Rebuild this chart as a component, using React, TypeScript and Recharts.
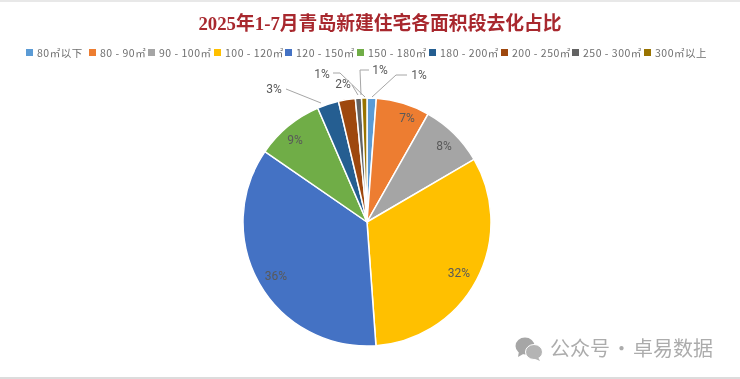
import { PieChart, Pie, Cell, Legend } from 'recharts'

const CATEGORIES = ['80㎡以下', '80 - 90㎡', '90 - 100㎡', '100 - 120㎡', '120 - 150㎡', '150 - 180㎡', '180 - 200㎡', '200 - 250㎡', '250 - 300㎡', '300㎡以上']
const SHARES = [1.2, 7, 8.4, 32.3, 35.8, 8.9, 2.8, 2.2, 0.8, 0.7]
const COLORS = ['#5b9bd5', '#ed7d31', '#a5a5a5', '#ffc000', '#4472c4', '#70ad47', '#255e91', '#9e480e', '#636363', '#997300']

const pieData = CATEGORIES.map((name, i) => ({ name, value: SHARES[i] }))

const CJK = '"Noto Sans CJK SC", sans-serif'

// label centre relative to pie centre, plus optional leader line (also relative)
const LABEL_SPOTS = [
  { x: 52, y: -147, line: [[5, -125], [29, -147], [40, -147]] },
  { x: 40, y: -104 },
  { x: 77, y: -76 },
  { x: 92, y: 51 },
  { x: -91, y: 54 },
  { x: -72, y: -82 },
  { x: -93, y: -133, line: [[-46, -119], [-81, -133]] },
  { x: -24, y: -138, line: [[-9, -127], [-15, -137]] },
  { x: -45, y: -148, line: [[-2, -125], [-27, -149], [-34, -149]] },
  { x: 13, y: -152, line: [[-6, -127], [-7, -152], [2, -152]] },
]

function renderLabel(props: any) {
  const { cx, cy, index, value } = props
  const spot = LABEL_SPOTS[index]
  const pts = spot.line ? spot.line.map(([x, y]: number[]) => `${cx + x},${cy + y}`).join(' ') : ''
  return (
    <g>
      {spot.line && <polyline points={pts} fill="none" stroke="#a6a6a6" strokeWidth={1} />}
      <text x={cx + spot.x} y={cy + spot.y} textAnchor="middle" dominantBaseline="central" fontSize={12} fontFamily="Roboto, sans-serif" fill="#595959">
        {Math.round(value)}%
      </text>
    </g>
  )
}

const LEGEND_X = [26, 89, 148, 214, 285, 357, 429, 501, 572, 644]

function LegendRow() {
  return (
    <div style={{ position: 'relative', width: 740, height: 16 }}>
      {CATEGORIES.map((name, i) => (
        <div key={name} style={{ position: 'absolute', left: LEGEND_X[i], top: 0, display: 'flex', alignItems: 'center', whiteSpace: 'nowrap' }}>
          <span style={{ width: 7, height: 7, background: COLORS[i], marginRight: 4, display: 'inline-block' }} />
          <span style={{ fontSize: 10.5, color: '#6f6f6f', fontFamily: CJK, letterSpacing: 0.5 }}>{name}</span>
        </div>
      ))}
    </div>
  )
}

export default function App() {
  return (
    <div style={{ position: 'absolute', left: 0, top: 0, width: 740, height: 379, background: '#fff', overflow: 'hidden', filter: 'blur(0.4px)' }}>
      <div style={{ position: 'absolute', left: 0, right: 0, top: 0, height: 2, background: '#e8e8e8' }} />
      <div style={{ position: 'absolute', left: 0, right: 0, top: 377, height: 2, background: '#dcdcdc' }} />
      <div style={{ position: 'absolute', left: 190, top: 12, width: 380, textAlign: 'center', whiteSpace: 'nowrap', fontFamily: '"Liberation Serif", "Noto Sans CJK SC", serif', fontWeight: 700, fontSize: 18.8, lineHeight: '24px', color: '#a8282e' }}>
        2025年1-7月青岛新建住宅各面积段去化占比
      </div>
      <PieChart width={740} height={379} margin={{ top: 0, right: 0, bottom: 0, left: 0 }} style={{ position: 'absolute', left: 0, top: 0 }}>
        <Legend content={<LegendRow />} verticalAlign="middle" align="center" wrapperStyle={{ left: 0, top: 45, width: 740 }} />
        <Pie
          data={pieData}
          dataKey="value"
          nameKey="name"
          cx={367}
          cy={222}
          outerRadius={124}
          startAngle={90}
          endAngle={-270}
          stroke="#fff"
          strokeWidth={1.5}
          label={renderLabel}
          labelLine={false}
          isAnimationActive={false}
        >
          {pieData.map((d, i) => (
            <Cell key={d.name} fill={COLORS[i]} />
          ))}
        </Pie>
      </PieChart>
      <svg width={30} height={26} style={{ position: 'absolute', left: 515, top: 336 }}>
        <ellipse cx={10} cy={10} rx={9.5} ry={8.5} fill="#a6a6a6" />
        <path d="M4 15 L3 21 L10 17 Z" fill="#a6a6a6" />
        <ellipse cx={19} cy={16} rx={8.5} ry={7.5} fill="#b4b4b4" stroke="#fff" strokeWidth={1} />
        <path d="M23 21 L25 25 L18 22 Z" fill="#b4b4b4" />
      </svg>
      <div style={{ position: 'absolute', left: 550, top: 335, whiteSpace: 'nowrap', fontFamily: CJK, fontSize: 20, lineHeight: '26px', color: '#acacac' }}>
        公众号<span style={{ margin: '0 1.5px' }}>·</span>卓易数据
      </div>
    </div>
  )
}
